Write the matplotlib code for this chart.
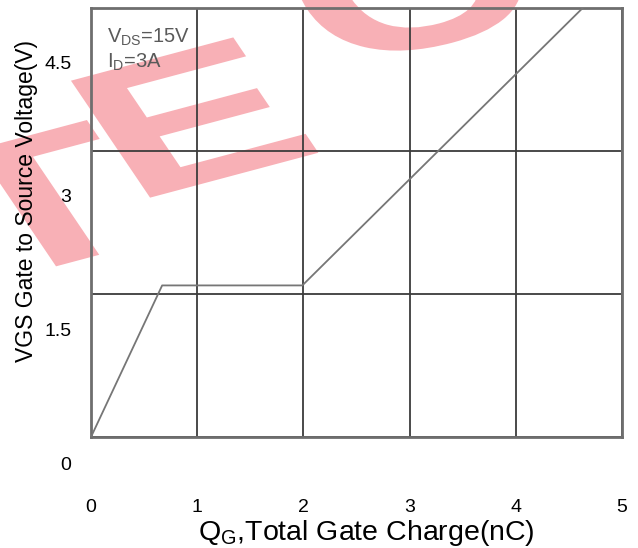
import matplotlib
matplotlib.use('Agg')
import matplotlib.pyplot as plt
from matplotlib.textpath import TextPath
from matplotlib.font_manager import FontProperties
from matplotlib.patches import PathPatch
from matplotlib.transforms import Affine2D, IdentityTransform

plt.rcParams['font.family'] = ['Liberation Sans', 'DejaVu Sans']
plt.rcParams['mathtext.fontset'] = 'custom'
plt.rcParams['mathtext.rm'] = 'Liberation Sans'
plt.rcParams['mathtext.it'] = 'Liberation Sans:italic'
plt.rcParams['mathtext.bf'] = 'Liberation Sans:bold'

# ---- data ----
qg = [0.0, 0.67, 1.99, 4.63]          # total gate charge (nC)
vgs = [0.0, 1.59, 1.59, 4.5]          # gate-source voltage (V)
grid_x = [0, 1, 2, 3, 4, 5]
grid_y = [0, 1.5, 3, 4.5]
x_ticks = [0, 1, 2, 3, 4, 5]
x_tick_labels = ['0', '1', '2', '3', '4', '5']
y_ticks = [0, 1.5, 3, 4.5]
y_tick_labels = ['0', '1.5', '3', '4.5']

W, H = 638, 548
fig = plt.figure(figsize=(W / 100, H / 100), dpi=100)


def px_rect(l, t, r, b):
    return [l / W, (H - b) / H, (r - l) / W, (b - t) / H]


# ---- watermark (skewed, rotated letters) ----
wm_prop = FontProperties(family='Liberation Sans', weight='bold')
Rv = (300.0, 80.0)     # glyph x-unit -> display pixels (y up)
Uv = (-115.0, 170.0)   # glyph y-unit -> display pixels (y up)


def watermark(letter, ox, oy_img):
    tp = TextPath((0, 0), letter, size=1, prop=wm_prop)
    tr = Affine2D.from_values(Rv[0], Rv[1], Uv[0], Uv[1], ox, H - oy_img)
    patch = PathPatch(tr.transform_path(tp), transform=IdentityTransform(),
                      facecolor='#f8b0b6', edgecolor='none', zorder=-5)
    fig.add_artist(patch)


watermark('T', -14, 285)
watermark('E', 130, 203)
watermark('C', 335, 72)

# main plot
ax = fig.add_axes(px_rect(91, 8, 622, 437))
ax.set_facecolor('none')
ax.set_xlim(0, 5)
ax.set_ylim(0, 4.5)
ax.set_xticks(grid_x)
ax.set_yticks(grid_y)
ax.grid(True, color='#3c3c3c', lw=1.3)
ax.tick_params(length=0, labelbottom=False, labelleft=False)
for s in ax.spines.values():
    s.set_color('#6e6e6e')
    s.set_linewidth(2)
ax.plot(qg, vgs, color='#767676', lw=1.3, zorder=3)

ax.text(0.15, 4.19, r'V$_{\mathrm{DS}}$=15V', fontsize=14.5, color='#5a5a5a',
        ha='left', va='center')
ax.text(0.15, 3.93, r'I$_{\mathrm{D}}$=3A', fontsize=14.5, color='#5a5a5a',
        ha='left', va='center')

ax.set_xlabel(r'Q$_{\mathrm{G}}$,Total Gate Charge(nC)', fontsize=20.5, va='center')
ax.xaxis.set_label_coords((366 - 91) / 531, -(533 - 437) / 429)
ax.set_ylabel('VGS Gate to Source Voltage(V)', fontsize=16.5, va='center')
ax.yaxis.set_label_coords((27 - 91) / 531, (437 - 201) / 429)

# tick-label axes (labels are offset from the grid in the original)
lab = fig.add_axes(px_rect(91, 62, 622, 463))
lab.set_facecolor('none')
lab.set_xlim(0, 5)
lab.set_ylim(0, 4.5)
for s in lab.spines.values():
    s.set_visible(False)
lab.set_xticks(x_ticks, x_tick_labels)
lab.set_yticks(y_ticks, y_tick_labels)
lab.tick_params(axis='y', length=0, pad=14, labelsize=14)
lab.tick_params(axis='x', length=0, pad=26, labelsize=14)

fig.savefig('out.png', dpi=100)
